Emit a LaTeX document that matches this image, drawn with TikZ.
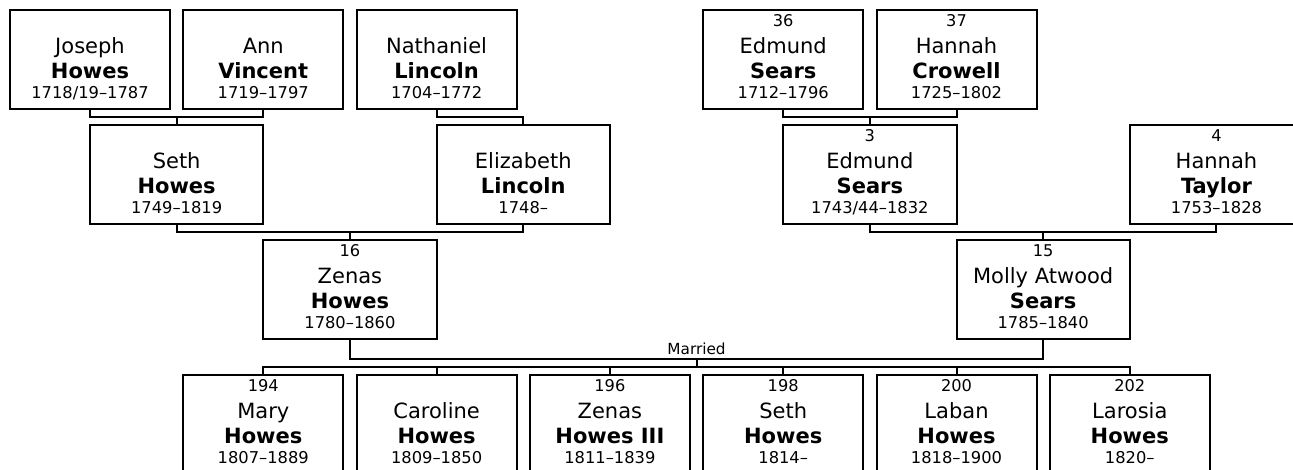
\documentclass[tikz,border=0pt]{standalone}
\usepackage{fontspec}
\setmainfont{DejaVu Sans}
\usetikzlibrary{calc}
\tikzset{
  pbox/.style={draw=black, line width=2pt, fill=white, rectangle, inner sep=0pt, outer sep=0pt, minimum height=99pt},
  conn/.style={draw=black, line width=2pt, line join=miter},
  numtxt/.style={anchor=base, inner sep=0pt, font=\fontsize{16.2}{18}\selectfont},
  nametxt/.style={anchor=base, inner sep=0pt, font=\fontsize{21}{25}\selectfont},
  surtxt/.style={anchor=base, inner sep=0pt, font=\fontsize{21}{25}\selectfont\bfseries},
  datetxt/.style={anchor=base, inner sep=0pt, font=\fontsize{16.3}{18}\selectfont},
  martxt/.style={anchor=base, inner sep=0pt, font=\fontsize{15.3}{17}\selectfont},
}
% id, centre x, top y, width, number, first name, surname, dates
\newcommand\famp[8]{%
  \node[pbox, minimum width=#4pt, anchor=north] (#1) at (#2,#3) {};
  \node[numtxt]  (#1-n) at ($(#1.north)+(0,16)$) {#5};
  \node[nametxt] (#1-f) at ($(#1.north)+(0,43)$) {#6};
  \node[surtxt]  (#1-s) at ($(#1.north)+(0,68)$) {#7};
  \node[datetxt] (#1-d) at ($(#1.north)+(0,88)$) {#8};
}
\begin{document}
\begin{tikzpicture}[x=1pt,y=-1pt]
\useasboundingbox (0,0) rectangle (1293,469);
\clip (0,0) rectangle (1293,469);
\fill[white] (0,0) rectangle (1293,469);

% Row 1
\famp{J}{90}{10}{160}{}{Joseph}{Howes}{1718/19–1787}
\famp{A}{263.3}{10}{160}{}{Ann}{Vincent}{1719–1797}
\famp{N}{436.6}{10}{160}{}{Nathaniel}{Lincoln}{1704–1772}
\famp{EA}{783.2}{10}{160}{36}{Edmund}{Sears}{1712–1796}
\famp{HC}{956.5}{10}{160}{37}{Hannah}{Crowell}{1725–1802}

% Row 2
\famp{S}{176.65}{125}{173.3}{}{Seth}{Howes}{1749–1819}
\famp{EL}{523.25}{125}{173.3}{}{Elizabeth}{Lincoln}{1748–}
\famp{ES}{869.85}{125}{173.3}{3}{Edmund}{Sears}{1743/44–1832}
\famp{HT}{1216.45}{125}{173.3}{4}{Hannah}{Taylor}{1753–1828}

% Row 3
\famp{Z}{349.95}{240}{173.3}{16}{Zenas}{Howes}{1780–1860}
\famp{M}{1043.15}{240}{173.3}{15}{Molly Atwood}{Sears}{1785–1840}

% Row 4 (children)
\famp{C1}{263.3}{375}{160}{194}{Mary}{Howes}{1807–1889}
\famp{C2}{436.6}{375}{160}{}{Caroline}{Howes}{1809–1850}
\famp{C3}{609.9}{375}{160}{196}{Zenas}{Howes III}{1811–1839}
\famp{C4}{783.2}{375}{160}{198}{Seth}{Howes}{1814–}
\famp{C5}{956.5}{375}{160}{200}{Laban}{Howes}{1818–1900}
\famp{C6}{1129.8}{375}{160}{202}{Larosia}{Howes}{1820–}

% Connectors row 1 -> row 2
\coordinate (b1) at (176.65,117);
\draw[conn] (J.south) |- (b1) -| (A.south);
\draw[conn] (b1) -- (S.north);
\coordinate (b2) at (523.25,117);
\draw[conn] (N.south) |- (b2) -- (EL.north);
\coordinate (b3) at (869.85,117);
\draw[conn] (EA.south) |- (b3) -| (HC.south);
\draw[conn] (b3) -- (ES.north);

% Connectors row 2 -> row 3
\coordinate (b4) at (349.95,232);
\draw[conn] (S.south) |- (b4) -| (EL.south);
\draw[conn] (b4) -- (Z.north);
\coordinate (b5) at (1043.15,232);
\draw[conn] (ES.south) |- (b5) -| (HT.south);
\draw[conn] (b5) -- (M.north);

% Marriage and children
\coordinate (mar) at (696.55,359);
\coordinate (kb) at (696.55,367);
\draw[conn] (Z.south) |- (mar) -| (M.south);
\node[martxt] (marlabel) at (696.55,354.5) {Married};
\draw[conn] (mar) -- (kb);
\draw[conn] (C1.north) |- (kb) -| (C6.north);
\draw[conn] (C2.north) -- (C2.north |- kb);
\draw[conn] (C3.north) -- (C3.north |- kb);
\draw[conn] (C4.north) -- (C4.north |- kb);
\draw[conn] (C5.north) -- (C5.north |- kb);
\end{tikzpicture}
\end{document}
